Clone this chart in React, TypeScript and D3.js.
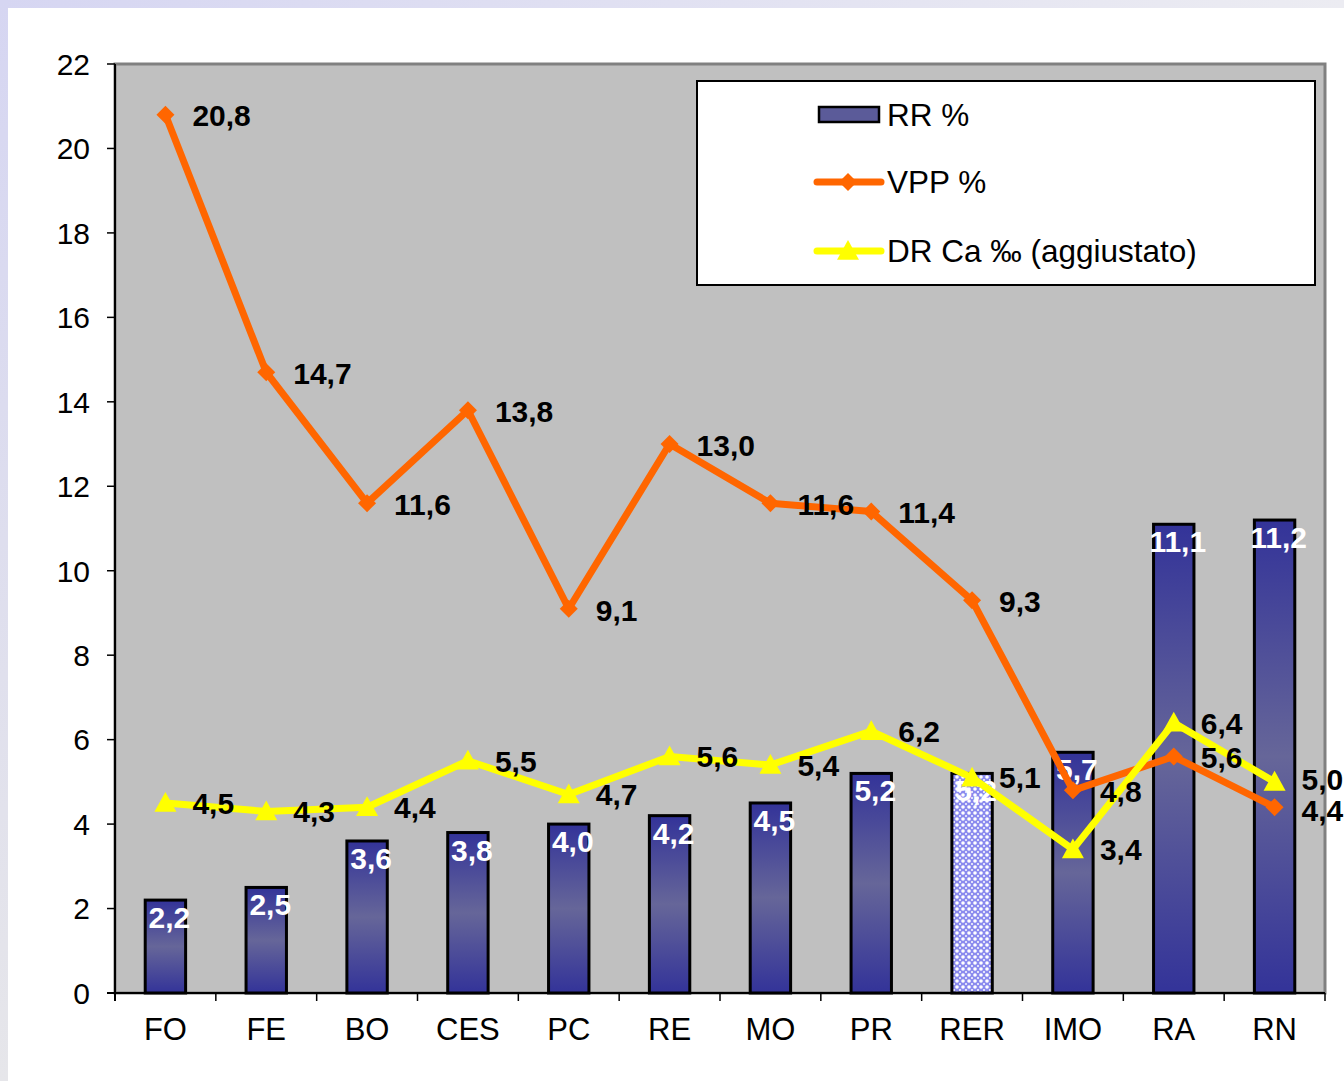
import React from "react";
import * as d3 from "d3";

const categories = ["FO", "FE", "BO", "CES", "PC", "RE", "MO", "PR", "RER", "IMO", "RA", "RN"];
const rrValues = [2.2, 2.5, 3.6, 3.8, 4.0, 4.2, 4.5, 5.2, 5.2, 5.7, 11.1, 11.2];
const vppValues = [20.8, 14.7, 11.6, 13.8, 9.1, 13.0, 11.6, 11.4, 9.3, 4.8, 5.6, 4.4];
const drValues = [4.5, 4.3, 4.4, 5.5, 4.7, 5.6, 5.4, 6.2, 5.1, 3.4, 6.4, 5.0];
const yTicks = [0, 2, 4, 6, 8, 10, 12, 14, 16, 18, 20, 22];
const seriesNames = ["RR %", "VPP %", "DR Ca ‰ (aggiustato)"];
const highlightCategory = "RER";

const W = 1344;
const H = 1081;
const plot = { left: 115, top: 64, right: 1325, bottom: 993 };
const FONT = "'Liberation Sans', Arial, sans-serif";

const fmt = (v: number) => v.toFixed(1).replace(".", ",");

export default function App() {
  const x = d3.scaleBand<string>().domain(categories).range([plot.left, plot.right]).padding(0.58);
  const xb = d3.scaleBand<string>().domain(categories).range([plot.left, plot.right]);
  const y = d3.scaleLinear().domain([0, 22]).range([plot.bottom, plot.top]);
  const cx = (c: string) => (xb(c) as number) + xb.bandwidth() / 2;
  const line = d3.line<number>().x((_, i) => cx(categories[i])).y((d) => y(d));
  const bw = x.bandwidth();
  const last = categories.length - 1;

  const diamond = (px: number, py: number, r = 9) =>
    `M${px},${py - r}L${px + r},${py}L${px},${py + r}L${px - r},${py}Z`;
  const tri = (px: number, py: number, r = 11) =>
    `M${px},${py - r}L${px + r},${py + r * 0.8}L${px - r},${py + r * 0.8}Z`;

  return (
    <svg width={W} height={H} style={{ position: "absolute", left: 0, top: 0, display: "block" }}>
      <defs>
        <linearGradient id="topStrip" x1="0" x2="1" y1="0" y2="0">
          <stop offset="0" stopColor="#d6d6f2" />
          <stop offset="1" stopColor="#ececf2" />
        </linearGradient>
        <linearGradient id="leftStrip" x1="0" x2="0" y1="0" y2="1">
          <stop offset="0" stopColor="#d6d6f2" />
          <stop offset="1" stopColor="#e6e6ea" />
        </linearGradient>
        <linearGradient id="barGrad" x1="0" x2="0" y1="0" y2="1">
          <stop offset="0" stopColor="#333399" />
          <stop offset="0.5" stopColor="#666699" />
          <stop offset="1" stopColor="#333399" />
        </linearGradient>
        <pattern id="dots" width="6" height="6" patternUnits="userSpaceOnUse">
          <rect width="6" height="6" fill="#8a8aee" />
          <circle cx="3" cy="3" r="1.8" fill="#ffffff" />
          <circle cx="0" cy="0" r="1" fill="#ffffff" />
          <circle cx="6" cy="6" r="1" fill="#ffffff" />
          <circle cx="0" cy="6" r="1" fill="#ffffff" />
          <circle cx="6" cy="0" r="1" fill="#ffffff" />
        </pattern>
      </defs>
      <rect x={0} y={0} width={W} height={H} fill="#ffffff" />
      <rect x={0} y={0} width={W} height={8} fill="url(#topStrip)" />
      <rect x={0} y={0} width={8} height={H} fill="url(#leftStrip)" />

      {/* plot area */}
      <rect x={plot.left} y={plot.top} width={plot.right - plot.left} height={plot.bottom - plot.top}
        fill="#c0c0c0" stroke="#808080" strokeWidth={3} />

      {/* axes */}
      <line x1={plot.left} x2={plot.left} y1={plot.top} y2={plot.bottom + 8} stroke="#000" strokeWidth={2} />
      <line x1={plot.left - 8} x2={plot.right} y1={plot.bottom} y2={plot.bottom} stroke="#000" strokeWidth={2} />
      {yTicks.map((t) => (
        <g key={t}>
          <line x1={plot.left - 8} x2={plot.left} y1={y(t)} y2={y(t)} stroke="#000" strokeWidth={1.5} />
          <text x={plot.left - 25} y={y(t)} dy="0.36em" textAnchor="end" fontFamily={FONT} fontSize={30} fill="#000">{t}</text>
        </g>
      ))}
      {categories.map((c) => (
        <g key={c}>
          <line x1={(xb(c) as number) + xb.bandwidth()} x2={(xb(c) as number) + xb.bandwidth()}
            y1={plot.bottom} y2={plot.bottom + 8} stroke="#000" strokeWidth={1.5} />
          <text x={cx(c)} y={1040} textAnchor="middle" fontFamily={FONT} fontSize={31} fill="#000">{c}</text>
        </g>
      ))}

      {/* bars */}
      {categories.map((c, i) => (
        <rect key={c} x={cx(c) - bw / 2} y={y(rrValues[i])} width={bw} height={plot.bottom - y(rrValues[i])}
          fill={c === highlightCategory ? "url(#dots)" : "url(#barGrad)"} stroke="#000" strokeWidth={3} />
      ))}
      {categories.map((c, i) => (
        <text key={c} x={cx(c) + 4} y={y(rrValues[i]) + 28} textAnchor="middle" fontFamily={FONT}
          fontWeight="bold" fontSize={30} fill="#ffffff">{fmt(rrValues[i])}</text>
      ))}

      {/* VPP line */}
      <path d={line(vppValues) as string} fill="none" stroke="#ff6600" strokeWidth={7} strokeLinejoin="round" />
      {vppValues.map((v, i) => (
        <path key={i} d={diamond(cx(categories[i]), y(v))} fill="#ff6600" />
      ))}
      {/* DR line */}
      <path d={line(drValues) as string} fill="none" stroke="#ffff00" strokeWidth={7} strokeLinejoin="round" />
      {drValues.map((v, i) => (
        <path key={i} d={tri(cx(categories[i]), y(v))} fill="#ffff00" />
      ))}

      {/* line labels */}
      {vppValues.map((v, i) => (
        <text key={"v" + i} x={cx(categories[i]) + 27} y={y(v) + (i === last ? 3 : 1)} dy="0.36em" fontFamily={FONT}
          fontWeight="bold" fontSize={30} fill="#000">{fmt(v)}</text>
      ))}
      {drValues.map((v, i) => (
        <text key={"d" + i} x={cx(categories[i]) + 27} y={y(v) - (i === last ? 3 : 0)} dy="0.36em" fontFamily={FONT}
          fontWeight="bold" fontSize={30} fill="#000">{fmt(v)}</text>
      ))}

      {/* legend */}
      <rect x={697} y={81} width={618} height={204} fill="#ffffff" stroke="#000" strokeWidth={2} />
      <rect x={819} y={107} width={60} height={15} fill="#5b5b99" stroke="#000" strokeWidth={2.5} />
      <text x={887} y={115} dy="0.36em" fontFamily={FONT} fontSize={31.5} fill="#000">{seriesNames[0]}</text>
      <line x1={817} x2={881} y1={182} y2={182} stroke="#ff6600" strokeWidth={7} strokeLinecap="round" />
      <path d={diamond(848, 182)} fill="#ff6600" />
      <text x={887} y={182} dy="0.36em" fontFamily={FONT} fontSize={31.5} fill="#000">{seriesNames[1]}</text>
      <line x1={817} x2={881} y1={251} y2={251} stroke="#ffff00" strokeWidth={7} strokeLinecap="round" />
      <path d={tri(848, 251)} fill="#ffff00" />
      <text x={887} y={251} dy="0.36em" fontFamily={FONT} fontSize={31.5} fill="#000">{seriesNames[2]}</text>
    </svg>
  );
}
